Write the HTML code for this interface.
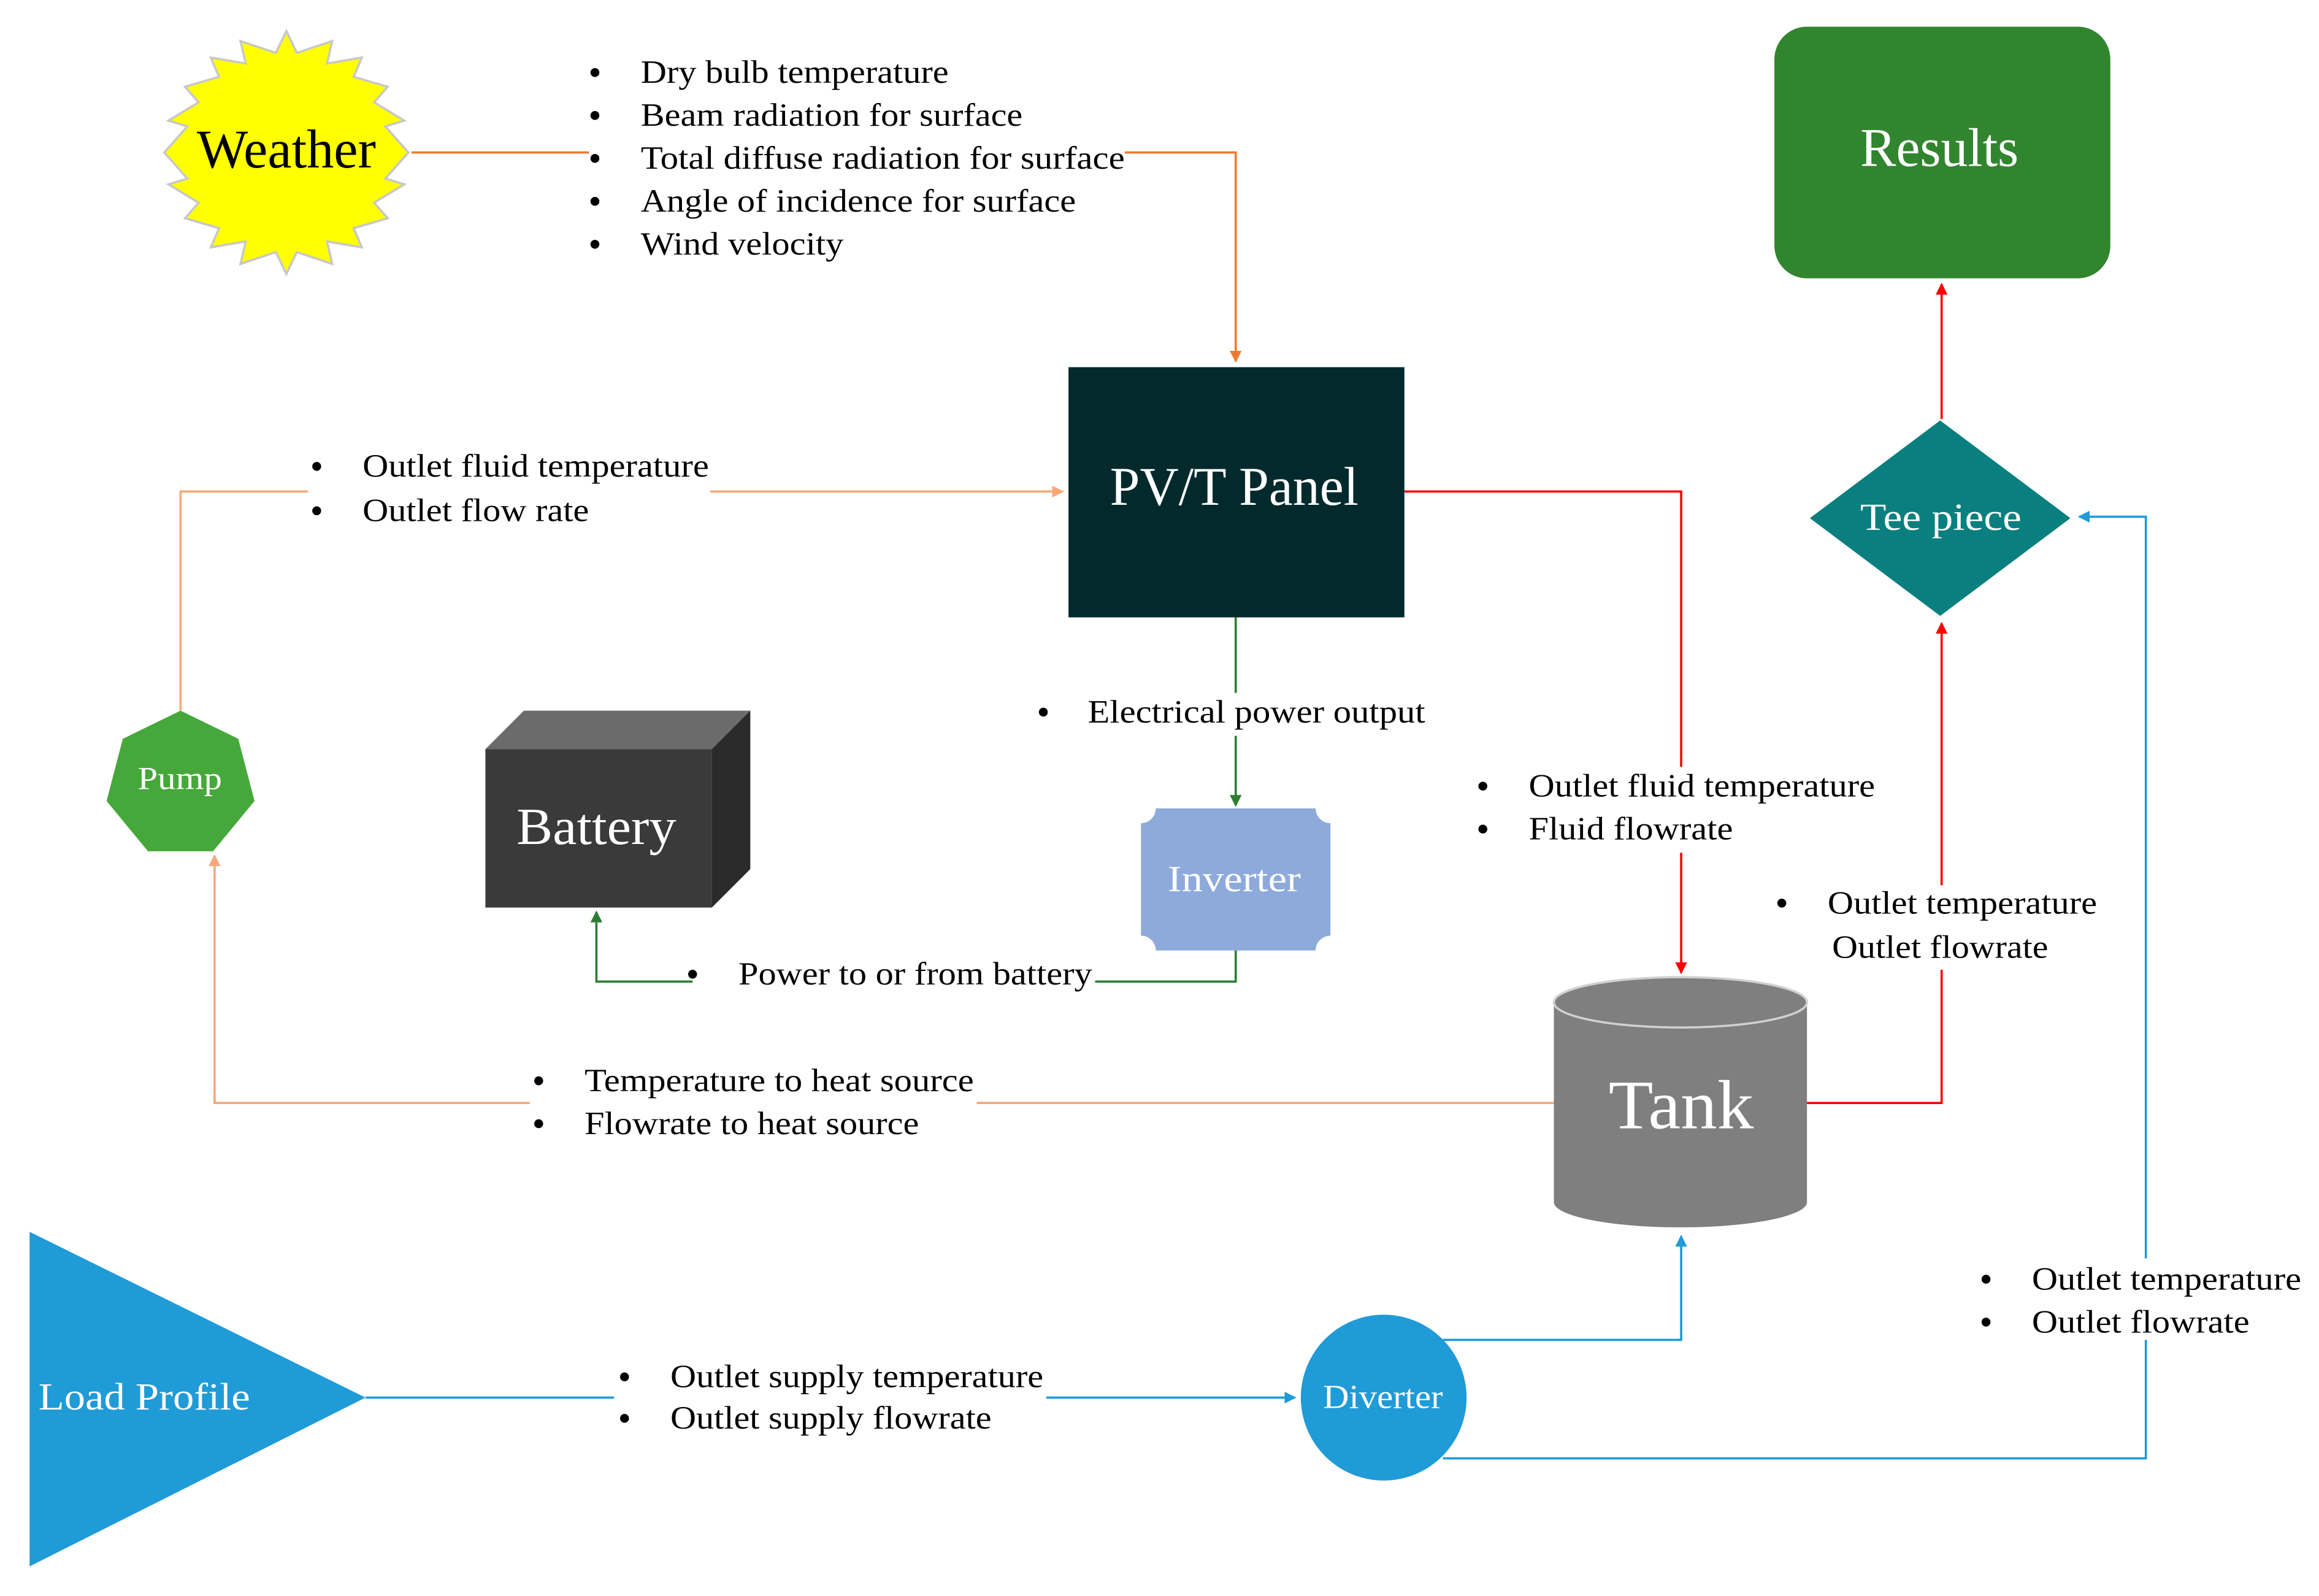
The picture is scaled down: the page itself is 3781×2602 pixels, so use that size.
<!DOCTYPE html>
<html><head><meta charset="utf-8"><style>
html,body{margin:0;padding:0;background:#fff;}
svg{display:block;}
text{font-family:"Liberation Serif",serif;}
</style></head><body>
<svg width="3781" height="2602" viewBox="0 0 1567 1078" preserveAspectRatio="none" xmlns="http://www.w3.org/2000/svg">
<defs>
<marker id="ao" markerWidth="8" markerHeight="8" refX="7" refY="4" orient="auto" markerUnits="userSpaceOnUse"><path d="M0,0 L8,4 L0,8 z" fill="#F07A30"/></marker>
<marker id="al" markerWidth="8" markerHeight="8" refX="7" refY="4" orient="auto" markerUnits="userSpaceOnUse"><path d="M0,0 L8,4 L0,8 z" fill="#F8A878"/></marker>
<marker id="ar" markerWidth="8" markerHeight="8" refX="7" refY="4" orient="auto" markerUnits="userSpaceOnUse"><path d="M0,0 L8,4 L0,8 z" fill="#FF0000"/></marker>
<marker id="ag" markerWidth="8" markerHeight="8" refX="7" refY="4" orient="auto" markerUnits="userSpaceOnUse"><path d="M0,0 L8,4 L0,8 z" fill="#2E7D32"/></marker>
<marker id="ab" markerWidth="8" markerHeight="8" refX="7" refY="4" orient="auto" markerUnits="userSpaceOnUse"><path d="M0,0 L8,4 L0,8 z" fill="#1F9BD7"/></marker>
</defs>

<polygon fill="#FFFF00" stroke="#c8c8c8" stroke-width="1.5" points="
276.0,103.0 260.4,120.6 273.2,124.5 252.8,136.9 262.0,147.4 239.0,154.1 244.5,167.1 221.0,163.1 224.5,178.3 200.6,170.3 193.5,185.0 186.4,170.3 162.5,178.3 166.0,163.1 142.5,167.1 148.0,154.1 125.0,147.4 134.2,136.9 113.8,124.5 126.6,120.6 111.0,103.0 126.6,85.4 113.8,81.5 134.2,69.1 125.0,58.6 148.0,51.9 142.5,38.9 166.0,42.9 162.5,27.7 186.4,35.7 193.5,21.0 200.6,35.7 224.5,27.7 221.0,42.9 244.5,38.9 239.0,51.9 262.0,58.6 252.8,69.1 273.2,81.5 260.4,85.4"/>
<text x="133" y="113" font-size="37" textLength="121" lengthAdjust="spacingAndGlyphs" fill="#000">Weather</text>

<g font-size="22" fill="#000">
<circle cx="402" cy="49" r="3"/><circle cx="402" cy="78" r="3"/><circle cx="402" cy="107" r="3"/><circle cx="402" cy="136" r="3"/><circle cx="402" cy="165" r="3"/>
<text x="433" y="56" textLength="208" lengthAdjust="spacingAndGlyphs">Dry bulb temperature</text>
<text x="433" y="85" textLength="258" lengthAdjust="spacingAndGlyphs">Beam radiation for surface</text>
<text x="433" y="114" textLength="327" lengthAdjust="spacingAndGlyphs">Total diffuse radiation for surface</text>
<text x="433" y="143" textLength="294" lengthAdjust="spacingAndGlyphs">Angle of incidence for surface</text>
<text x="433" y="172" textLength="137" lengthAdjust="spacingAndGlyphs">Wind velocity</text>
</g>
<polyline points="278,103 398,103" fill="none" stroke="#F07A30" stroke-width="1.5"/>
<polyline points="760,103 835,103 835,244" fill="none" stroke="#F07A30" stroke-width="1.5" marker-end="url(#ao)"/>

<rect x="1199" y="18" width="227" height="170" rx="22" fill="#31852F"/>
<text x="1257" y="112" font-size="37" textLength="107" lengthAdjust="spacingAndGlyphs" fill="#fff">Results</text>
<polyline points="1312,283 1312,192" fill="none" stroke="#FF0000" stroke-width="1.5" marker-end="url(#ar)"/>

<polygon points="1311,284 1399,350 1311,416 1223,350" fill="#0A7F7F"/>
<text x="1257" y="358" font-size="26" textLength="109" lengthAdjust="spacingAndGlyphs" fill="#fff">Tee piece</text>

<rect x="722" y="248" width="227" height="169" fill="#022A2C"/>
<text x="750" y="341" font-size="37" textLength="168" lengthAdjust="spacingAndGlyphs" fill="#fff">PV/T Panel</text>

<polyline points="122,480 122,332 208,332" fill="none" stroke="#F8A878" stroke-width="1.5"/>
<polyline points="480,332 718,332" fill="none" stroke="#F8A878" stroke-width="1.5" marker-end="url(#al)"/>
<g font-size="22" fill="#000">
<circle cx="214" cy="315" r="3"/><circle cx="214" cy="345" r="3"/>
<text x="245" y="322" textLength="234" lengthAdjust="spacingAndGlyphs">Outlet fluid temperature</text>
<text x="245" y="352" textLength="153" lengthAdjust="spacingAndGlyphs">Outlet flow rate</text>
</g>

<polyline points="949,332 1136,332 1136,518" fill="none" stroke="#FF0000" stroke-width="1.5"/>
<polyline points="1136,576 1136,657" fill="none" stroke="#FF0000" stroke-width="1.5" marker-end="url(#ar)"/>
<g font-size="22" fill="#000">
<circle cx="1002" cy="531" r="3"/><circle cx="1002" cy="560" r="3"/>
<text x="1033" y="538" textLength="234" lengthAdjust="spacingAndGlyphs">Outlet fluid temperature</text>
<text x="1033" y="567" textLength="138" lengthAdjust="spacingAndGlyphs">Fluid flowrate</text>
</g>

<polyline points="835,417 835,468" fill="none" stroke="#2E7D32" stroke-width="1.5"/>
<polyline points="835,497 835,544" fill="none" stroke="#2E7D32" stroke-width="1.5" marker-end="url(#ag)"/>
<g font-size="22" fill="#000">
<circle cx="705" cy="481" r="3"/>
<text x="735" y="488" textLength="228" lengthAdjust="spacingAndGlyphs">Electrical power output</text>
</g>

<path d="M781,546 L889,546 A10,10 0 0 0 899,556 L899,632 A10,10 0 0 0 889,642 L781,642 A10,10 0 0 0 771,632 L771,556 A10,10 0 0 0 781,546 z" fill="#8EAADB"/>
<text x="789" y="602" font-size="25" textLength="90" lengthAdjust="spacingAndGlyphs" fill="#fff">Inverter</text>

<polyline points="835,642 835,663 740,663" fill="none" stroke="#2E7D32" stroke-width="1.5"/>
<polyline points="468,663 403,663 403,616" fill="none" stroke="#2E7D32" stroke-width="1.5" marker-end="url(#ag)"/>
<g font-size="22" fill="#000">
<circle cx="468" cy="658" r="3"/>
<text x="499" y="665" textLength="239" lengthAdjust="spacingAndGlyphs">Power to or from battery</text>
</g>

<polygon points="328,506 354,480 507,480 481,506" fill="#6B6B6B"/>
<polygon points="481,506 507,480 507,587 481,613" fill="#2A2A2A"/>
<rect x="328" y="506" width="153" height="107" fill="#3A3A3A"/>
<text x="349" y="570" font-size="35" textLength="108" lengthAdjust="spacingAndGlyphs" fill="#fff">Battery</text>

<polygon points="122,480 161,499 172,541 144,575 100,575 72,541 83,499" fill="#46A83A"/>
<text x="93" y="533" font-size="22" textLength="57" lengthAdjust="spacingAndGlyphs" fill="#fff">Pump</text>

<polyline points="1050,745 660,745" fill="none" stroke="#F8A878" stroke-width="1.5"/>
<polyline points="358,745 145,745 145,578" fill="none" stroke="#F8A878" stroke-width="1.5" marker-end="url(#al)"/>
<g font-size="22" fill="#000">
<circle cx="364" cy="730" r="3"/><circle cx="364" cy="759" r="3"/>
<text x="395" y="737" textLength="263" lengthAdjust="spacingAndGlyphs">Temperature to heat source</text>
<text x="395" y="766" textLength="226" lengthAdjust="spacingAndGlyphs">Flowrate to heat source</text>
</g>

<path d="M1050,677 L1050,812 A85.5,17 0 0 0 1221,812 L1221,677 z" fill="#7F7F7F"/>
<ellipse cx="1135.5" cy="677" rx="85.5" ry="17" fill="#7F7F7F" stroke="#d0d0d0" stroke-width="1.5"/>
<text x="1087" y="762" font-size="47" textLength="98" lengthAdjust="spacingAndGlyphs" fill="#fff">Tank</text>

<polyline points="1221,745 1312,745 1312,655" fill="none" stroke="#FF0000" stroke-width="1.5"/>
<polyline points="1312,598 1312,421" fill="none" stroke="#FF0000" stroke-width="1.5" marker-end="url(#ar)"/>
<g font-size="22" fill="#000">
<circle cx="1204" cy="610" r="3"/>
<text x="1235" y="617" textLength="182" lengthAdjust="spacingAndGlyphs">Outlet temperature</text>
<text x="1238" y="647" textLength="146" lengthAdjust="spacingAndGlyphs">Outlet flowrate</text>
</g>

<polygon points="20,832 247,944 20,1058" fill="#1F9BD7"/>
<text x="26" y="952" font-size="26" textLength="143" lengthAdjust="spacingAndGlyphs" fill="#fff">Load Profile</text>
<polyline points="247,944 415,944" fill="none" stroke="#1F9BD7" stroke-width="1.5"/>
<polyline points="707,944 875,944" fill="none" stroke="#1F9BD7" stroke-width="1.5" marker-end="url(#ab)"/>
<g font-size="22" fill="#000">
<circle cx="422" cy="930" r="3"/><circle cx="422" cy="958" r="3"/>
<text x="453" y="937" textLength="252" lengthAdjust="spacingAndGlyphs">Outlet supply temperature</text>
<text x="453" y="965" textLength="217" lengthAdjust="spacingAndGlyphs">Outlet supply flowrate</text>
</g>

<circle cx="935" cy="944" r="56" fill="#1F9BD7"/>
<text x="894" y="951" font-size="23" textLength="81" lengthAdjust="spacingAndGlyphs" fill="#fff">Diverter</text>
<polyline points="975,905 1136,905 1136,835" fill="none" stroke="#1F9BD7" stroke-width="1.5" marker-end="url(#ab)"/>
<polyline points="975,985 1450,985 1450,905" fill="none" stroke="#1F9BD7" stroke-width="1.5"/>
<polyline points="1450,850 1450,349 1405,349" fill="none" stroke="#1F9BD7" stroke-width="1.5" marker-end="url(#ab)"/>
<g font-size="22" fill="#000">
<circle cx="1342" cy="864" r="3"/><circle cx="1342" cy="893" r="3"/>
<text x="1373" y="871" textLength="182" lengthAdjust="spacingAndGlyphs">Outlet temperature</text>
<text x="1373" y="900" textLength="147" lengthAdjust="spacingAndGlyphs">Outlet flowrate</text>
</g>
</svg>
</body></html>
